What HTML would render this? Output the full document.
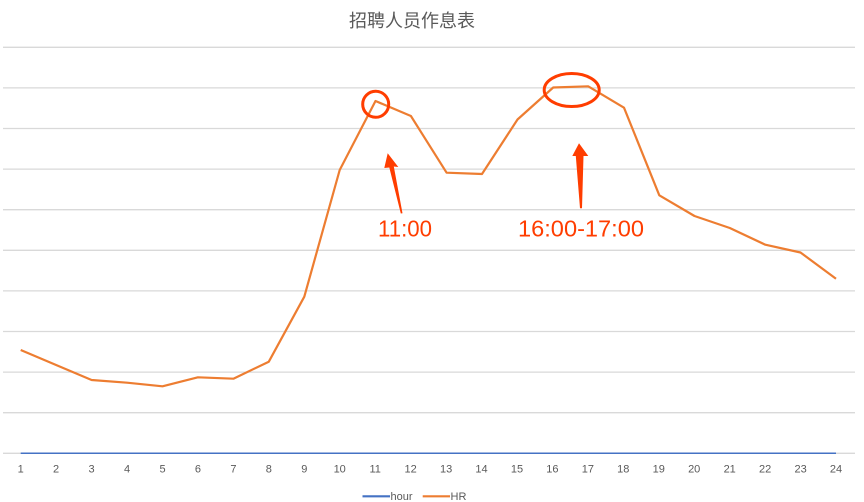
<!DOCTYPE html>
<html><head><meta charset="utf-8"><style>
html,body{margin:0;padding:0;background:#fff;}
svg{display:block;}
</style></head><body>
<svg width="864" height="502" viewBox="0 0 864 502" xmlns="http://www.w3.org/2000/svg">
<rect width="864" height="502" fill="#fff"/>
<text x="412" y="27" text-anchor="middle" font-family="'Liberation Sans','Noto Sans CJK SC',sans-serif" font-size="18" fill="#595959">招聘人员作息表</text>
<g stroke="#d9d9d9" stroke-width="1.3">
<line x1="3" y1="47.3" x2="855" y2="47.3"/>
<line x1="3" y1="87.9" x2="855" y2="87.9"/>
<line x1="3" y1="128.5" x2="855" y2="128.5"/>
<line x1="3" y1="169.1" x2="855" y2="169.1"/>
<line x1="3" y1="209.7" x2="855" y2="209.7"/>
<line x1="3" y1="250.3" x2="855" y2="250.3"/>
<line x1="3" y1="290.9" x2="855" y2="290.9"/>
<line x1="3" y1="331.5" x2="855" y2="331.5"/>
<line x1="3" y1="372.1" x2="855" y2="372.1"/>
<line x1="3" y1="412.7" x2="855" y2="412.7"/>
<line x1="3" y1="453.3" x2="855" y2="453.3"/>
</g>
<line x1="20.7" y1="453.3" x2="836" y2="453.3" stroke="#4472c4" stroke-width="1.5"/>
<polyline fill="none" stroke="#ed7d31" stroke-width="2.2" stroke-linejoin="round" points="20.7,350 56.1,365 91.6,380 127,382.7 162.5,386.3 197.9,377.3 233.4,378.7 268.8,361.7 304.3,296.7 339.7,170 375.5,101 410.9,116 446.6,172.7 482,174 517.5,119.5 553.2,87.5 588.2,86.3 624,107.7 659.3,195.3 694.5,216 729.8,228 765.3,244.7 800.5,252.5 836,278.7"/>
<g font-family="'Liberation Sans',sans-serif" font-size="11" fill="#595959" text-anchor="middle">
<text x="20.7" y="472.5">1</text><text x="56.1" y="472.5">2</text><text x="91.6" y="472.5">3</text><text x="127" y="472.5">4</text><text x="162.5" y="472.5">5</text><text x="197.9" y="472.5">6</text><text x="233.4" y="472.5">7</text><text x="268.8" y="472.5">8</text><text x="304.3" y="472.5">9</text><text x="339.7" y="472.5">10</text><text x="375.2" y="472.5">11</text><text x="410.6" y="472.5">12</text><text x="446.1" y="472.5">13</text><text x="481.5" y="472.5">14</text><text x="517" y="472.5">15</text><text x="552.4" y="472.5">16</text><text x="587.9" y="472.5">17</text><text x="623.3" y="472.5">18</text><text x="658.8" y="472.5">19</text><text x="694.2" y="472.5">20</text><text x="729.7" y="472.5">21</text><text x="765.1" y="472.5">22</text><text x="800.6" y="472.5">23</text><text x="836" y="472.5">24</text>
</g>
<line x1="362.5" y1="496.3" x2="390" y2="496.3" stroke="#4472c4" stroke-width="2.2"/>
<text x="390.5" y="500" font-family="'Liberation Sans',sans-serif" font-size="11" fill="#595959">hour</text>
<line x1="422.7" y1="496.3" x2="450" y2="496.3" stroke="#ed7d31" stroke-width="2.2"/>
<text x="450.5" y="500" font-family="'Liberation Sans',sans-serif" font-size="11" fill="#595959">HR</text>
<!-- annotations -->
<circle cx="375.7" cy="104.3" r="13" fill="none" stroke="#ff3d00" stroke-width="3"/>
<ellipse cx="571.7" cy="90" rx="27.5" ry="16.5" fill="none" stroke="#ff3d00" stroke-width="3"/>
<polygon fill="#ff3d00" points="387.7,153.3 398.3,167 393.8,166.5 402.5,213.3 400.8,213.5 389.3,167.5 384.3,168"/>
<polygon fill="#ff3d00" points="579,143.3 588.3,156 583.5,156 582,208.3 580,208.3 575.8,156 572.3,156"/>
<text x="378" y="236.7" font-family="'Liberation Sans',sans-serif" font-size="23" fill="#ff3d00" textLength="54" lengthAdjust="spacingAndGlyphs">11:00</text>
<text x="518" y="236.7" font-family="'Liberation Sans',sans-serif" font-size="23" fill="#ff3d00" textLength="126" lengthAdjust="spacingAndGlyphs">16:00-17:00</text>
</svg>
</body></html>
